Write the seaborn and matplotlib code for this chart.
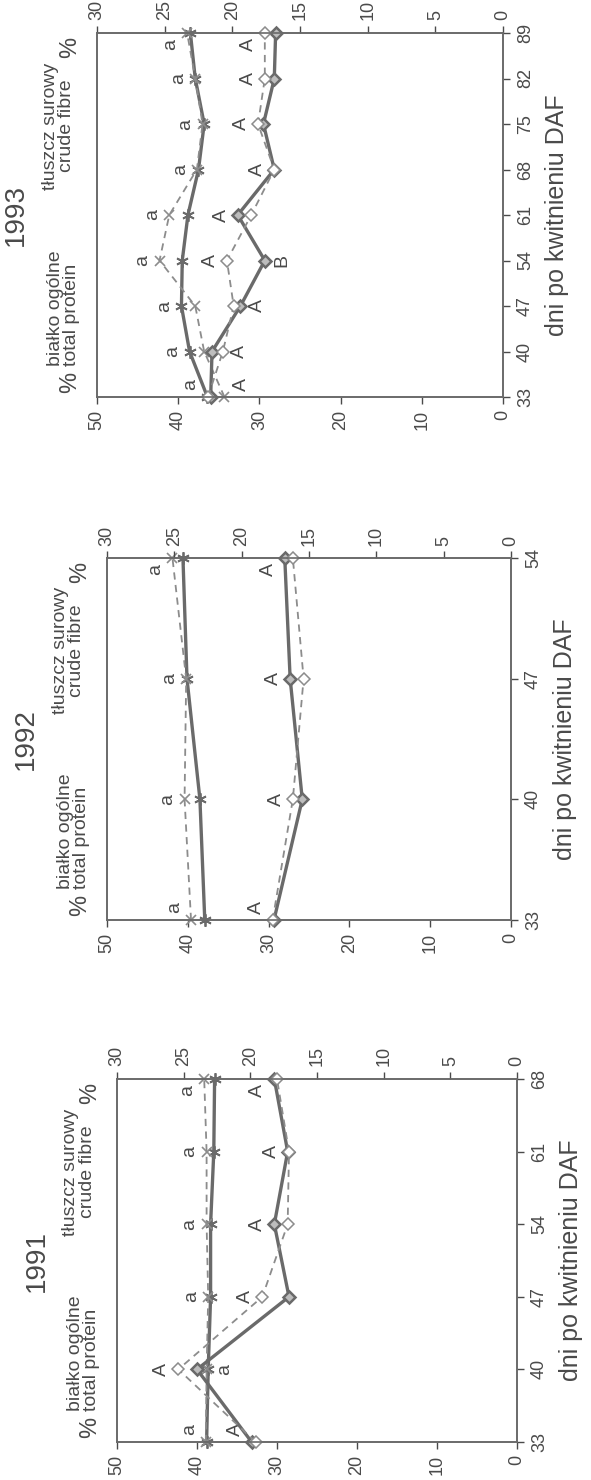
import matplotlib
matplotlib.use('Agg')
import matplotlib.pyplot as plt
import seaborn as sns

sns.set_style('ticks')
plt.rcParams['font.family'] = ['Liberation Sans', 'DejaVu Sans']

# data: protein on the 0-50 axis, fat ("crude fibre") on the 0-30 axis
years = ['1991', '1992', '1993']

days_1991 = [33, 40, 47, 54, 61, 68]
protein_solid_1991 = [38.8, 38.6, 38.3, 38.3, 37.9, 37.8]
protein_dash_1991 = [38.9, 38.8, 38.6, 38.8, 38.8, 39.1]
fat_solid_1991 = [19.9, 24.0, 17.1, 18.2, 17.2, 18.2]
fat_dash_1991 = [19.6, 25.4, 19.1, 17.2, 17.1, 18.0]
prot_above_1991 = ['a', '', 'a', 'a', 'a', 'a']
prot_below_1991 = ['', 'a', '', '', '', '']
fat_above_1991 = ['A', 'A', 'A', 'A', 'A', 'A']
fat_below_1991 = ['', '', '', '', '', '']

days_1992 = [33, 40, 47, 54]
protein_solid_1992 = [37.9, 38.5, 40.1, 40.6]
protein_dash_1992 = [39.6, 40.4, 40.2, 41.9]
fat_solid_1992 = [17.6, 15.5, 16.4, 16.8]
fat_dash_1992 = [17.7, 16.2, 15.4, 16.2]
prot_above_1992 = ['a', 'a', 'a', 'a']
prot_below_1992 = ['', '', '', '']
fat_above_1992 = ['A', 'A', 'A', 'A']
fat_below_1992 = ['', '', '', '']

days_1993 = [33, 40, 47, 54, 61, 68, 75, 82, 89]
protein_solid_1993 = [36.4, 38.6, 39.6, 39.5, 38.8, 37.5, 36.8, 37.9, 38.5]
protein_dash_1993 = [34.3, 36.8, 37.9, 42.3, 41.1, 37.7, 37.0, 37.9, 38.9]
fat_solid_1993 = [21.6, 21.5, 19.4, 17.6, 19.6, 16.9, 17.7, 16.9, 16.8]
fat_dash_1993 = [21.8, 20.7, 19.9, 20.4, 18.6, 16.9, 18.1, 17.6, 17.6]
prot_above_1993 = ['a'] * 9
prot_below_1993 = [''] * 9
fat_above_1993 = ['', '', '', 'A', 'A', 'A', 'A', 'A', 'A']
fat_below_1993 = ['A', 'A', 'A', 'B', '', '', '', '', '']

panels = [
    (years[0], days_1991, protein_solid_1991, protein_dash_1991, fat_solid_1991, fat_dash_1991,
     prot_above_1991, prot_below_1991, fat_above_1991, fat_below_1991, [117, 38, 400, 363]),
    (years[1], days_1992, protein_solid_1992, protein_dash_1992, fat_solid_1992, fat_dash_1992,
     prot_above_1992, prot_below_1992, fat_above_1992, fat_below_1992, [107, 560, 404, 362]),
    (years[2], days_1993, protein_solid_1993, protein_dash_1993, fat_solid_1993, fat_dash_1993,
     prot_above_1993, prot_below_1993, fat_above_1993, fat_below_1993, [97, 1083, 406, 364]),
]

W, H = 591, 1480
solid_c = '#6a6a6a'
dash_c = '#8c8c8c'
text_c = '#4a4a4a'

fig = plt.figure(figsize=(W / 100, H / 100), dpi=100)

for (year, days, ps, pd_, fs, fd, pa, pb, fa, fb, r) in panels:
    ax = fig.add_axes([r[0] / W, r[1] / H, r[2] / W, r[3] / H])
    ax2 = ax.twiny()

    # protein lines
    sns.lineplot(x=ps, y=days, sort=False, orient='y', errorbar=None, ax=ax,
                 color=solid_c, lw=2.4, marker=(6, 2, 0), ms=9, mew=1.3, mec=solid_c, clip_on=False)
    sns.lineplot(x=pd_, y=days, sort=False, orient='y', errorbar=None, ax=ax,
                 color=dash_c, lw=1.3, ls=(0, (4, 3)), marker='x', ms=7, mew=1.2, mec=dash_c, clip_on=False)
    # fat lines
    sns.lineplot(x=fs, y=days, sort=False, orient='y', errorbar=None, ax=ax2,
                 color=solid_c, lw=2.4, marker='D', ms=6, mew=1.8, mfc='#bdbdbd', mec=solid_c, clip_on=False)
    sns.lineplot(x=fd, y=days, sort=False, orient='y', errorbar=None, ax=ax2,
                 color=dash_c, lw=1.3, ls=(0, (4, 3)), marker='D', ms=6, mew=1.1, mfc='white', mec=dash_c, clip_on=False)

    ax.set_xlim(50, 0)
    ax2.set_xlim(30, 0)
    ax.set_ylim(days[0], days[-1])

    ax.set_xticks(range(0, 51, 10))
    ax2.set_xticks(range(0, 31, 5))
    ax.set_yticks(days)
    ax.yaxis.tick_right()
    ax.yaxis.set_label_position('right')
    ax.tick_params(axis='x', labelrotation=90, labelsize=13, colors=text_c, length=5, width=1, pad=4)
    ax2.tick_params(axis='x', labelrotation=90, labelsize=13, colors=text_c, length=5, width=1, pad=4)
    ax.tick_params(axis='y', labelrotation=90, labelsize=13, colors=text_c, length=5, width=1, pad=5)
    for t in ax.get_yticklabels():
        t.set_va('center')
    ax.set_xlabel('')
    ax2.set_xlabel('')
    ax.set_ylabel('dni po kwitnieniu DAF', fontsize=18, color=text_c, labelpad=8)
    for a in (ax, ax2):
        for s in a.spines.values():
            s.set_visible(True)
            s.set_color(solid_c)
            s.set_linewidth(1.2)

    # significance letters, placed in protein-axis units
    n = len(days)
    for i, d in enumerate(days):
        fs_eq = fs[i] * 50 / 30
        fd_eq = fd[i] * 50 / 30
        lowest = min(ps[i], pd_[i], fs_eq, fd_eq)
        dy = 0
        if i == 0:
            dy = 9
        elif i == n - 1:
            dy = -8
        if pa[i]:
            ax.annotate(pa[i], xy=(max(ps[i], pd_[i]), d), xytext=(-12, dy), textcoords='offset points',
                        rotation=90, ha='center', va='center', fontsize=14, color=text_c)
        if pb[i]:
            ax.annotate(pb[i], xy=(lowest, d), xytext=(12, dy), textcoords='offset points',
                        rotation=90, ha='center', va='center', fontsize=14, color=text_c)
        if fa[i]:
            ax.annotate(fa[i], xy=(max(fs_eq, fd_eq), d), xytext=(-12, dy), textcoords='offset points',
                        rotation=90, ha='center', va='center', fontsize=14, color=text_c)
        if fb[i]:
            ax.annotate(fb[i], xy=(lowest, d), xytext=(12, dy), textcoords='offset points',
                        rotation=90, ha='center', va='center', fontsize=14, color=text_c)

    # titles and axis captions
    ax.text(-0.2, 0.5, year, transform=ax.transAxes, rotation=90, ha='center', va='center',
            fontsize=20, color=text_c)
    ax.text(-0.083, 0.085, 'białko ogólne\ntotal protein', transform=ax.transAxes, rotation=90,
            ha='center', va='bottom', multialignment='left', fontsize=14, color=text_c, linespacing=0.95)
    ax.text(-0.066, 0.01, '%', transform=ax.transAxes, rotation=90, ha='center', va='bottom',
            fontsize=17, color=text_c)
    ax.text(-0.095, 0.744, 'tłuszcz surowy\ncrude fibre', transform=ax.transAxes, rotation=90,
            ha='center', va='center', multialignment='center', fontsize=14, color=text_c, linespacing=0.95)
    ax.text(-0.066, 0.99, '%', transform=ax.transAxes, rotation=90, ha='center', va='top',
            fontsize=17, color=text_c)

fig.savefig('out.png', dpi=100)
